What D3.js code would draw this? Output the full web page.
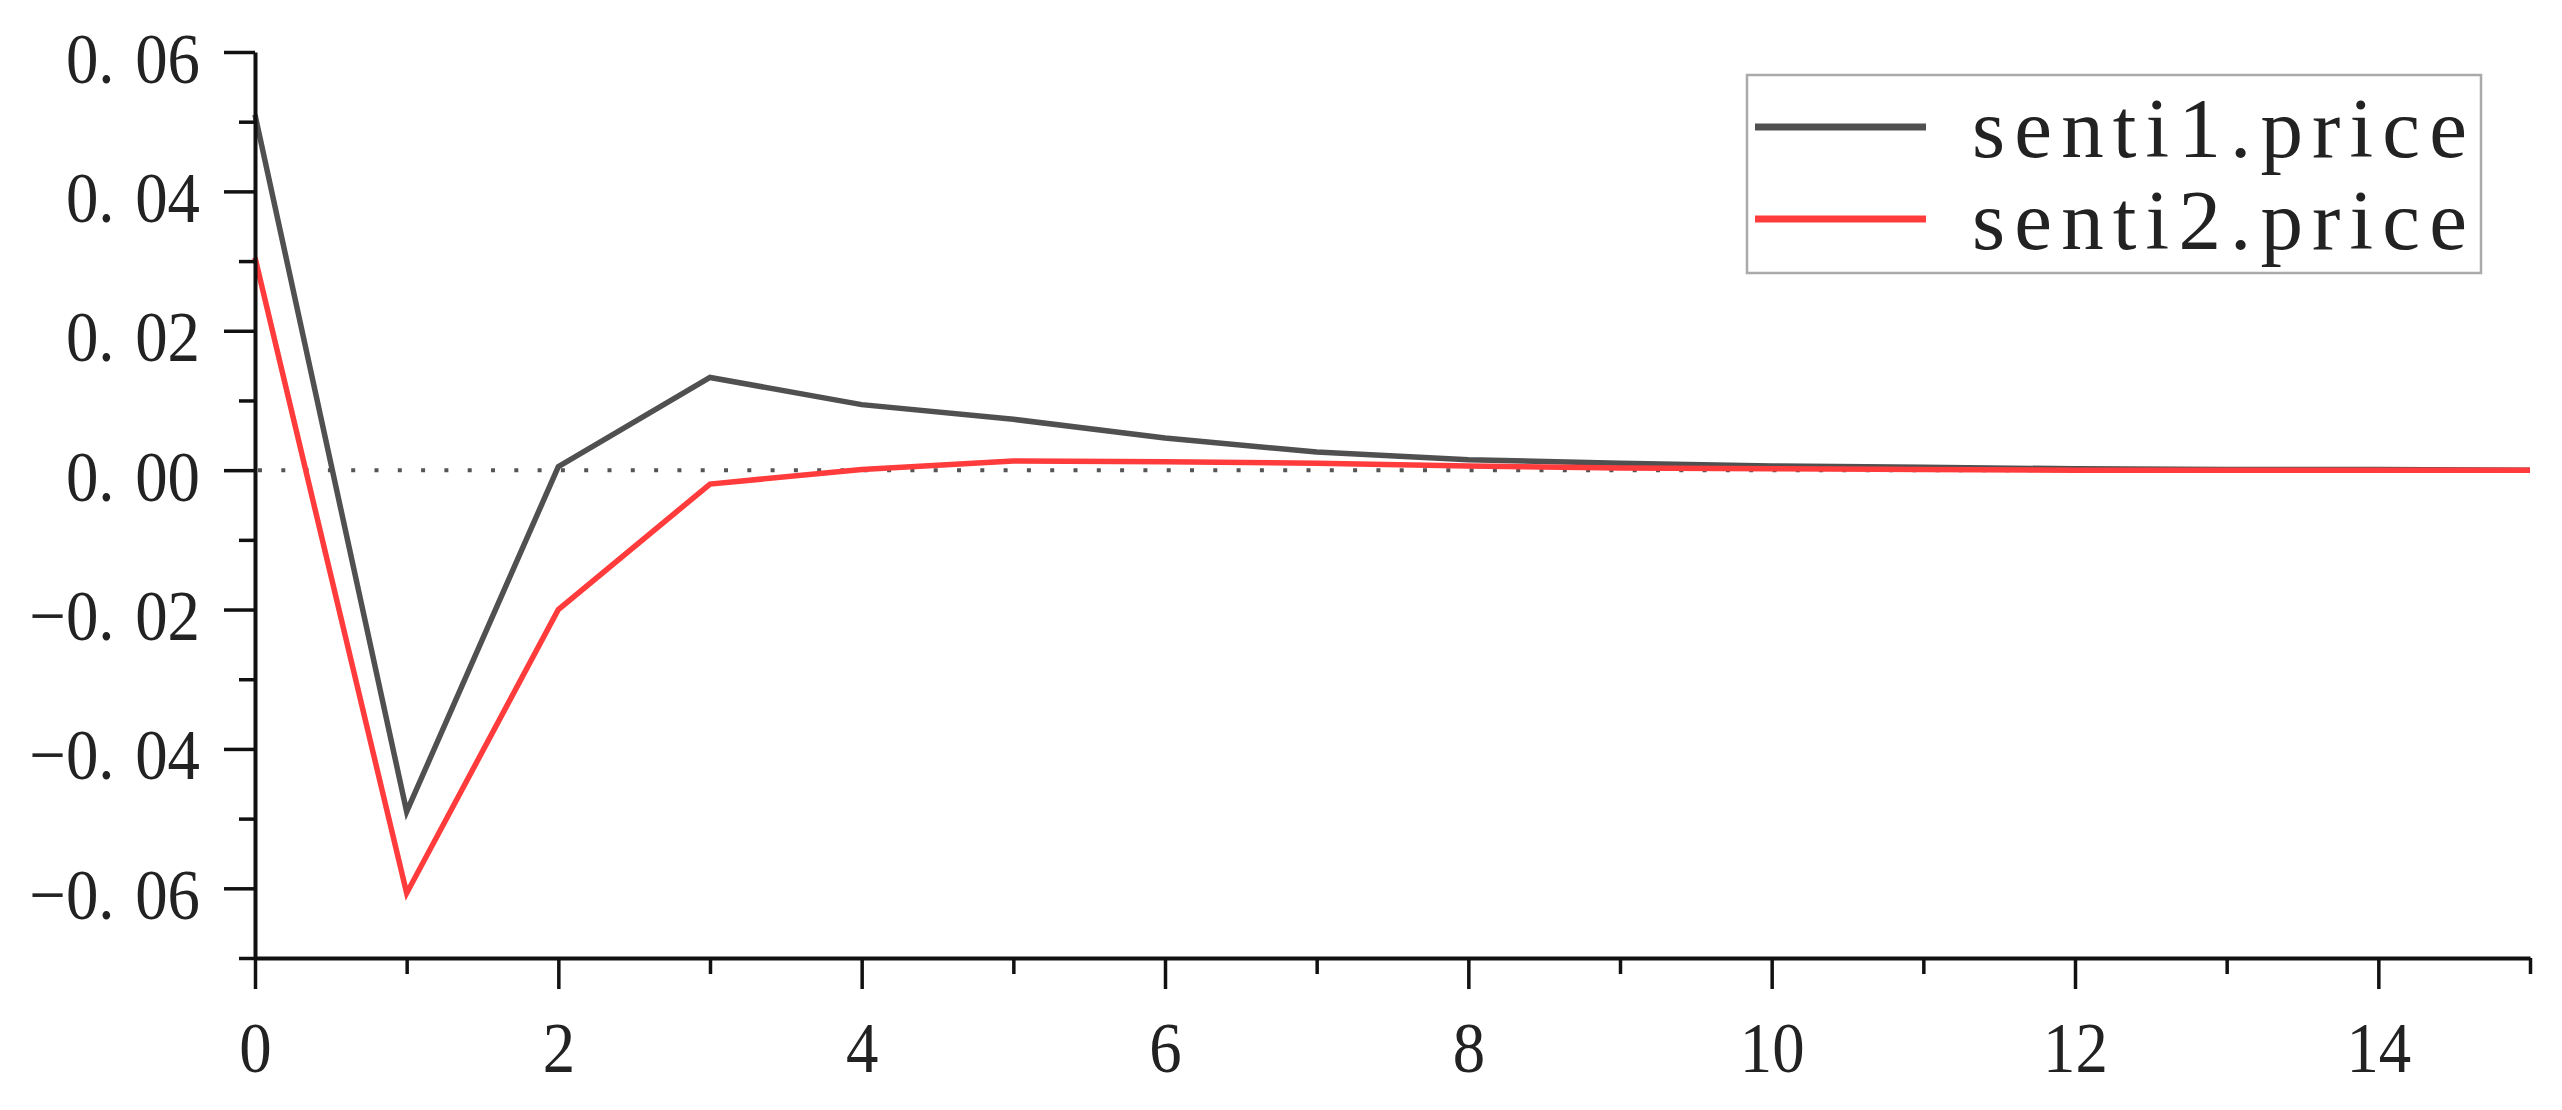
<!DOCTYPE html>
<html><head><meta charset="utf-8">
<script src="https://cdn.jsdelivr.net/npm/d3@7"></script>
<style>html,body{margin:0;padding:0;background:#fff;} svg{display:block;}</style>
</head><body>
<svg id="chart" width="2562" height="1110"></svg>
<script>
// ---- data ----
const periods = [0,1,2,3,4,5,6,7,8,9,10,11,12,13,14,15];
const senti1Price = [0.0510,-0.0490,0.0005,0.0133,0.0094,0.0073,0.0046,0.0026,0.0015,0.0010,0.0006,0.0004,0.0002,0.0001,0.0001,0.0000];
const senti2Price = [0.0305,-0.0607,-0.0200,-0.0020,0.0001,0.0013,0.0012,0.0010,0.0006,0.0003,0.0002,0.0001,0.0000,0.0000,0.0000,0.0000];
const seriesNames = ["senti1.price","senti2.price"];
const xMajorTicks = [0,2,4,6,8,10,12,14];
const xMinorTicks = [1,3,5,7,9,11,13,15];
const yMajorTicks = [0.06,0.04,0.02,0.00,-0.02,-0.04,-0.06];
const yMinorTicks = [0.05,0.03,0.01,-0.01,-0.03,-0.05,-0.07];

// ---- layout ----
const svg = d3.select("#chart");
const x = d3.scaleLinear().domain([0,15]).range([255,2530]);
const y = d3.scaleLinear().domain([-0.07,0.06]).range([958,52]);
const colors = ["#505050","#ff3b3b"];
const labelFont = "'Liberation Serif','Times New Roman',serif";

// zero reference dotted line
svg.append("line")
  .attr("x1", x(0)).attr("x2", x(15))
  .attr("y1", y(0)).attr("y2", y(0))
  .attr("stroke","#555").attr("stroke-width",4)
  .attr("stroke-dasharray","4,19.3").attr("stroke-dashoffset",-3);

// series
const series = [senti1Price, senti2Price];
const line = d3.line().x((d,i)=>x(periods[i])).y(d=>y(d));
series.forEach((s,k)=>{
  svg.append("path").datum(s)
    .attr("fill","none").attr("stroke",colors[k])
    .attr("stroke-width",5.5).attr("stroke-linejoin","miter")
    .attr("d",line);
});

// axes
const yFmt = d3.format(".2f");
const gy = svg.append("g").attr("transform",`translate(${x(0)},0)`)
  .call(d3.axisLeft(y).tickValues(yMajorTicks).tickSize(31).tickSizeOuter(0).tickFormat(yFmt));
const gyMinor = svg.append("g").attr("transform",`translate(${x(0)},0)`)
  .call(d3.axisLeft(y).tickValues(yMinorTicks).tickSize(16).tickSizeOuter(0).tickFormat(""));
const gx = svg.append("g").attr("transform",`translate(0,${y(-0.07)})`)
  .call(d3.axisBottom(x).tickValues(xMajorTicks).tickSize(31).tickSizeOuter(0).tickFormat(d3.format("d")));
const gxMinor = svg.append("g").attr("transform",`translate(0,${y(-0.07)})`)
  .call(d3.axisBottom(x).tickValues(xMinorTicks).tickSize(16).tickSizeOuter(0).tickFormat(""));

[gy,gyMinor,gx,gxMinor].forEach(g=>{
  g.select(".domain").attr("stroke","#111").attr("stroke-width",4);
  g.selectAll(".tick line").attr("stroke","#111").attr("stroke-width",3.5);
});
gyMinor.select(".domain").remove();
gxMinor.select(".domain").remove();

gy.selectAll(".tick text").each(function(d){
  const s = yFmt(d); const i = s.indexOf(".");
  const t = d3.select(this).text(null).attr("x",null).attr("dy",null)
    .attr("transform","translate(-55,30) scale(0.9,1)")
    .attr("text-anchor","end").attr("fill","#222")
    .style("font-family",labelFont).style("font-size","72px");
  t.append("tspan").text(s.slice(0,i+1));
  t.append("tspan").attr("dx",23).text(s.slice(i+1));
});
gx.selectAll(".tick text")
  .attr("y",null).attr("dy",null)
  .attr("transform","translate(0,114) scale(0.9,1)")
  .attr("text-anchor","middle").attr("fill","#222")
  .style("font-family",labelFont).style("font-size","72px");

// legend
const lg = svg.append("g");
lg.append("rect").attr("x",1747).attr("y",75).attr("width",734).attr("height",198)
  .attr("fill","#fff").attr("stroke","#aaa").attr("stroke-width",2.5);
seriesNames.forEach((name,k)=>{
  const yy = 127 + k*92;
  lg.append("line").attr("x1",1755).attr("x2",1926).attr("y1",yy).attr("y2",yy)
    .attr("stroke",colors[k]).attr("stroke-width",7);
  lg.append("text").attr("x",1972).attr("y",yy+30)
    .attr("textLength",495).attr("lengthAdjust","spacing")
    .attr("fill","#222").style("font-family",labelFont).style("font-size","85px")
    .text(name);
});
</script>
</body></html>
